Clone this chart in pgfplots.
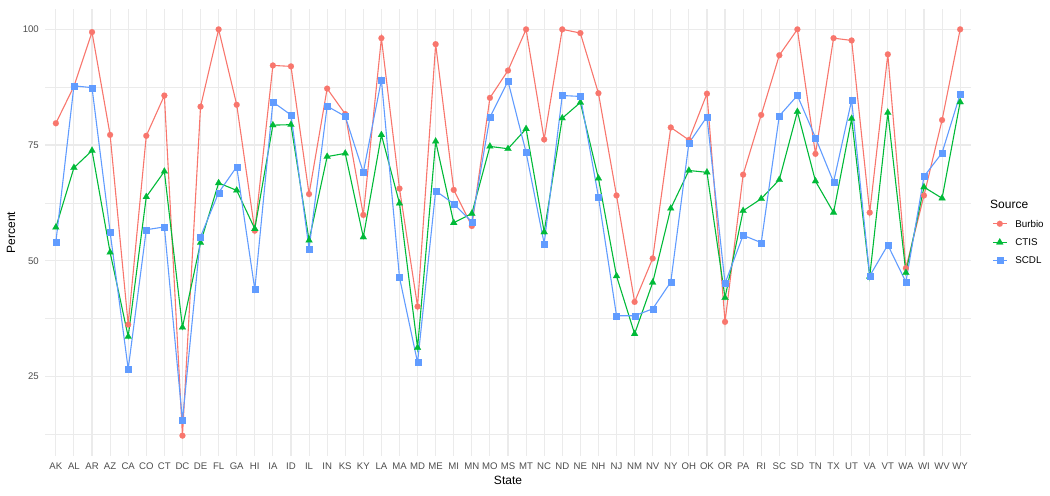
\documentclass[border=0pt]{standalone}
\usepackage{fontspec}
\setmainfont{Liberation Sans}
\usepackage{pgfplots}
\usepackage{pgfplotstable}
\pgfplotsset{compat=1.18}
\definecolor{burbio}{HTML}{F8766D}
\definecolor{ctis}{HTML}{00BA38}
\definecolor{scdl}{HTML}{619CFF}
\definecolor{gridc}{HTML}{EBEBEB}
\definecolor{tickc}{HTML}{4D4D4D}

% idx = position of the state on the x axis
\pgfplotstableread{
idx state burbio ctis scdl
0  AK  79.7  57.2  54.0
1  AL  87.7  70.1  87.8
2  AR  99.4  73.8  87.4
3  AZ  77.2  51.8  56.2
4  CA  36.2  33.6  26.6
5  CO  77.0  63.8  56.7
6  CT  85.7  69.3  57.3
7  DC  12.2  35.6  15.5
8  DE  83.3  53.9  55.2
9  FL  100.0 66.8  64.7
10 GA  83.7  65.2  70.3
11 HI  56.5  56.9  43.8
12 IA  92.2  79.3  84.3
13 ID  92.0  79.4  81.5
14 IL  64.4  54.4  52.6
15 IN  87.2  72.5  83.4
16 KS  81.7  73.2  81.2
17 KY  59.9  55.1  69.1
18 LA  98.1  77.2  89.1
19 MA  65.6  62.4  46.4
20 MD  40.1  31.2  28.0
21 ME  96.8  75.8  65.1
22 MI  65.3  58.2  62.3
23 MN  57.5  60.2  58.4
24 MO  85.2  74.7  81.0
25 MS  91.1  74.2  88.8
26 MT  100.0 78.5  73.4
27 NC  76.2  56.2  53.7
28 ND  100.0 80.8  85.7
29 NE  99.2  84.2  85.5
30 NH  86.2  67.8  63.8
31 NJ  64.1  46.7  38.1
32 NM  41.1  34.2  38.1
33 NV  50.5  45.3  39.6
34 NY  78.8  61.3  45.4
35 OH  76.1  69.5  75.4
36 OK  86.1  69.1  81.1
37 OR  36.8  42.0  45.1
38 PA  68.6  60.8  55.5
39 RI  81.5  63.4  53.9
40 SC  94.4  67.5  81.3
41 SD  100.0 82.2  85.7
42 TN  73.1  67.2  76.6
43 TX  98.1  60.4  67.0
44 UT  97.6  80.7  84.7
45 VA  60.4  46.6  46.7
46 VT  94.6  82.0  53.4
47 WA  48.4  47.4  45.4
48 WI  64.1  65.9  68.2
49 WV  80.4  63.5  73.3
50 WY  100.0 84.3  86.0
}\sdata

\begin{document}
\begin{tikzpicture}
\begin{axis}[
  scale only axis,
  width=926bp, height=447bp,
  xmin=-0.6, xmax=50.6,
  ymin=7.8, ymax=104.4,
  xtick={0,...,50},
  xticklabels={AK,AL,AR,AZ,CA,CO,CT,DC,DE,FL,GA,HI,IA,ID,IL,IN,KS,KY,LA,MA,MD,ME,MI,MN,MO,MS,MT,NC,ND,NE,NH,NJ,NM,NV,NY,OH,OK,OR,PA,RI,SC,SD,TN,TX,UT,VA,VT,WA,WI,WV,WY},
  ytick={25,50,75,100},
  minor ytick={12.5,37.5,62.5,87.5},
  xmajorgrids, ymajorgrids, yminorgrids,
  major grid style={gridc, line width=1.1bp},
  minor grid style={gridc, line width=0.6bp},
  axis line style={draw=none},
  major tick length=0pt, minor tick length=0pt,
  tick style={draw=none},
  /pgf/number format/assume math mode=true,
  tick label style={font=\fontsize{9.6bp}{11bp}\selectfont, text=tickc, inner sep=0pt},
  yticklabel style={xshift=-6bp},
  xticklabel style={yshift=-7bp},
  xlabel={State},
  label style={font=\fontsize{12bp}{14bp}\selectfont, inner sep=0pt},
  xlabel style={at={(rel axis cs:0.5,0)}, anchor=north, yshift=-20bp},
  clip=false,
  legend style={at={(rel axis cs:1.0227,0.4787)}, anchor=west, draw=none, fill=none,
    font=\fontsize{9.8bp}{11bp}\selectfont, inner sep=0pt, row sep=11bp,
    nodes={inner sep=0pt, text height=7bp, text depth=0pt}},
  legend cell align=left,
  legend image code/.code={\draw[mark repeat=2,mark phase=2] plot coordinates {(0bp,0bp) (7bp,0bp) (14bp,0bp)}; \node at (21bp,0){};},
]
% lines first, then points on top (as ggplot)
\addplot[burbio, line width=1.1bp, forget plot] table[x=idx, y=burbio] {\sdata};
\addplot[ctis, line width=1.1bp, forget plot] table[x=idx, y=ctis] {\sdata};
\addplot[scdl, line width=1.1bp, forget plot] table[x=idx, y=scdl] {\sdata};
\addplot[only marks, mark=*, mark size=3bp, mark options={fill=burbio, draw=burbio, line width=0.1bp}, forget plot] table[x=idx, y=burbio] {\sdata};
\addplot[only marks, mark=triangle*, mark size=4bp, mark options={fill=ctis, draw=ctis, line width=0.1bp}, forget plot] table[x=idx, y=ctis] {\sdata};
\addplot[only marks, mark=square*, mark size=3bp, mark options={fill=scdl, draw=scdl, line width=0.1bp}, forget plot] table[x=idx, y=scdl] {\sdata};
\addlegendimage{burbio, line width=1.1bp, mark=*, mark size=3bp, mark options={fill=burbio, draw=burbio, line width=0.1bp}}
\addlegendentry{Burbio}
\addlegendimage{ctis, line width=1.1bp, mark=triangle*, mark size=4bp, mark options={fill=ctis, draw=ctis, line width=0.1bp}}
\addlegendentry{CTIS}
\addlegendimage{scdl, line width=1.1bp, mark=square*, mark size=3bp, mark options={fill=scdl, draw=scdl, line width=0.1bp}}
\addlegendentry{SCDL}
\node[anchor=base west, inner sep=0pt, font=\fontsize{12bp}{14bp}\selectfont] at (rel axis cs:1.0205,0.554) {Source};
\end{axis}
\node[rotate=90, anchor=center, inner sep=0pt, font=\fontsize{12bp}{14bp}\selectfont] at ([xshift=-34bp]current axis.west) {Percent};
\pgfresetboundingbox
\useasboundingbox ([xshift=-45bp,yshift=-40bp]current axis.south west) rectangle ([xshift=79bp,yshift=9bp]current axis.north east);
\end{tikzpicture}
\end{document}
